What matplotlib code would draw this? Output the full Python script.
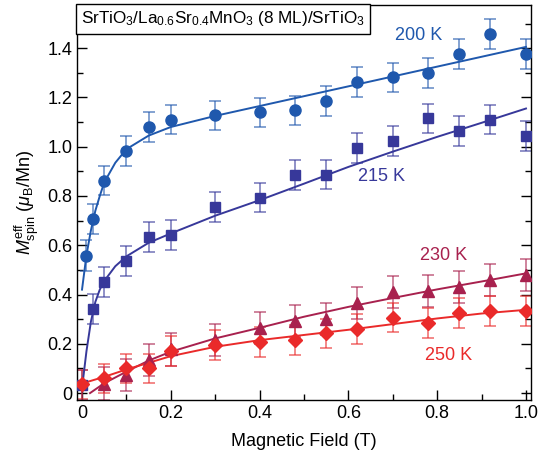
import numpy as np
import matplotlib
matplotlib.use("Agg")
import matplotlib.pyplot as plt
from matplotlib.ticker import MultipleLocator

plt.rcParams['font.family'] = ['Liberation Sans', 'DejaVu Sans']
plt.rcParams['mathtext.fontset'] = 'custom'
plt.rcParams['mathtext.rm'] = 'Liberation Sans'
plt.rcParams['mathtext.it'] = 'Liberation Sans:italic'
plt.rcParams['mathtext.bf'] = 'Liberation Sans:bold'

# measured points (field in T, moment in muB/Mn)
x_200 = [0.01, 0.025, 0.05, 0.1, 0.15, 0.2, 0.3, 0.4, 0.48, 0.55, 0.62, 0.7, 0.78, 0.85, 0.92, 1.0]
y_200 = [0.557, 0.706, 0.862, 0.983, 1.081, 1.110, 1.127, 1.139, 1.147, 1.185, 1.263, 1.281, 1.300, 1.377, 1.458, 1.377]
e_200 = [0.063, 0.06, 0.06, 0.06, 0.06, 0.06, 0.06, 0.06, 0.06, 0.06, 0.06, 0.06, 0.06, 0.06, 0.06, 0.06]

x_215 = [0.0, 0.025, 0.05, 0.1, 0.15, 0.2, 0.3, 0.4, 0.48, 0.55, 0.62, 0.7, 0.78, 0.85, 0.92, 1.0]
y_215 = [0.032, 0.341, 0.450, 0.537, 0.634, 0.641, 0.756, 0.793, 0.885, 0.887, 0.994, 1.023, 1.115, 1.063, 1.110, 1.044]
e_215 = [0.06, 0.06, 0.06, 0.06, 0.06, 0.06, 0.06, 0.06, 0.06, 0.06, 0.06, 0.06, 0.06, 0.06, 0.06, 0.06]

x_230 = [0.05, 0.1, 0.15, 0.2, 0.3, 0.4, 0.48, 0.55, 0.62, 0.7, 0.78, 0.85, 0.92, 1.0]
y_230 = [0.039, 0.073, 0.134, 0.177, 0.215, 0.265, 0.293, 0.300, 0.364, 0.411, 0.415, 0.431, 0.459, 0.479]
e_230 = [0.065, 0.065, 0.065, 0.065, 0.065, 0.065, 0.065, 0.065, 0.065, 0.065, 0.065, 0.065, 0.065, 0.065]

x_250 = [0.0, 0.05, 0.1, 0.15, 0.2, 0.3, 0.4, 0.48, 0.55, 0.62, 0.7, 0.78, 0.85, 0.92, 1.0]
y_250 = [0.035, 0.060, 0.100, 0.100, 0.170, 0.195, 0.208, 0.215, 0.242, 0.260, 0.306, 0.285, 0.326, 0.333, 0.333]
e_250 = [0.06, 0.06, 0.06, 0.06, 0.06, 0.06, 0.06, 0.06, 0.06, 0.06, 0.06, 0.06, 0.06, 0.06, 0.06]

# fit curves
fx_200 = [0.0, 0.01, 0.02, 0.03, 0.04, 0.05, 0.075, 0.1, 0.15, 0.2, 0.3, 0.4, 0.5, 0.6, 0.7, 0.8, 0.9, 1.0]
fy_200 = [0.42, 0.56, 0.66, 0.74, 0.80, 0.855, 0.935, 0.99, 1.045, 1.08, 1.125, 1.165, 1.205, 1.245, 1.285, 1.325, 1.365, 1.405]

fx_215 = [0.0, 0.01, 0.02, 0.03, 0.04, 0.05, 0.075, 0.1, 0.15, 0.2, 0.3, 0.4, 0.5, 0.6, 0.7, 0.8, 0.9, 1.0]
fy_215 = [0.02, 0.17, 0.29, 0.37, 0.42, 0.455, 0.515, 0.555, 0.61, 0.648, 0.72, 0.783, 0.85, 0.918, 0.98, 1.04, 1.097, 1.155]

fx_230 = [0.018, 0.05, 0.1, 0.15, 0.2, 0.3, 0.4, 0.5, 0.6, 0.7, 0.8, 0.9, 1.0]
fy_230 = [0.0, 0.04, 0.087, 0.132, 0.168, 0.222, 0.265, 0.31, 0.35, 0.386, 0.421, 0.453, 0.486]

fx_250 = [0.0, 0.05, 0.1, 0.15, 0.2, 0.3, 0.4, 0.5, 0.6, 0.7, 0.8, 0.9, 1.0]
fy_250 = [0.039, 0.066, 0.096, 0.123, 0.15, 0.188, 0.215, 0.236, 0.257, 0.28, 0.303, 0.323, 0.338]

c_200 = '#1f58ad'
c_215 = '#37389a'
c_230 = '#a8214e'
c_250 = '#ea2a2a'

fig = plt.figure(figsize=(5.39, 4.57), dpi=100)
ax = fig.add_axes([77 / 539, 0.1247, 454 / 539, 0.8643])

series = [
    (x_200, y_200, e_200, fx_200, fy_200, c_200, 'o', 8),
    (x_215, y_215, e_215, fx_215, fy_215, c_215, 's', 7.5),
    (x_230, y_230, e_230, fx_230, fy_230, c_230, '^', 8),
    (x_250, y_250, e_250, fx_250, fy_250, c_250, 'D', 7.5),
]
for xs, ys, es, fx, fy, col, mk, ms in series:
    ax.errorbar(xs, ys, yerr=es, fmt='none', ecolor=col, elinewidth=1.1,
                capsize=4.5, capthick=1.1, alpha=0.7, zorder=2)
    ax.plot(fx, fy, '-', color=col, lw=1.4, zorder=3)
    ax.plot(xs, ys, mk, color=col, ms=ms, mec=col, zorder=4)

ax.text(0.758, 1.453, '200 K', color=c_200, fontsize=13, ha='center', va='center')
ax.text(0.675, 0.88, '215 K', color=c_215, fontsize=13, ha='center', va='center')
ax.text(0.814, 0.56, '230 K', color=c_230, fontsize=13, ha='center', va='center')
ax.text(0.825, 0.154, '250 K', color=c_250, fontsize=13, ha='center', va='center')

ax.set_xlim(-0.0113, 1.0113)
ax.set_ylim(-0.028, 1.575)
ax.xaxis.set_minor_locator(MultipleLocator(0.1))
ax.yaxis.set_minor_locator(MultipleLocator(0.1))
ax.set_xticks([0, 0.2, 0.4, 0.6, 0.8, 1.0])
ax.set_xticklabels(['0', '0.2', '0.4', '0.6', '0.8', '1.0'])
ax.set_yticks([0, 0.2, 0.4, 0.6, 0.8, 1.0, 1.2, 1.4])
ax.set_yticklabels(['0', '0.2', '0.4', '0.6', '0.8', '1.0', '1.2', '1.4'])
ax.tick_params(which='both', direction='in', right=True, top=False, labelsize=13, width=1)
ax.tick_params(which='major', length=7)
ax.tick_params(which='minor', length=4)
for s in ax.spines.values():
    s.set_linewidth(1)

ax.set_xlabel('Magnetic Field (T)', fontsize=13, labelpad=8)
ax.set_ylabel(r'$M^{\rm eff}_{\rm spin}$ ($\mu_{\rm B}$/Mn)', fontsize=13, labelpad=4)

fig.text(81 / 539, 1 - 19 / 457,
         r'SrTiO$_3$/La$_{0.6}$Sr$_{0.4}$MnO$_3$ (8 ML)/SrTiO$_3$',
         fontsize=12.3, ha='left', va='center',
         bbox=dict(boxstyle='square,pad=0.3', fc='white', ec='black', lw=1), zorder=10)

fig.savefig('out.png', dpi=100)
